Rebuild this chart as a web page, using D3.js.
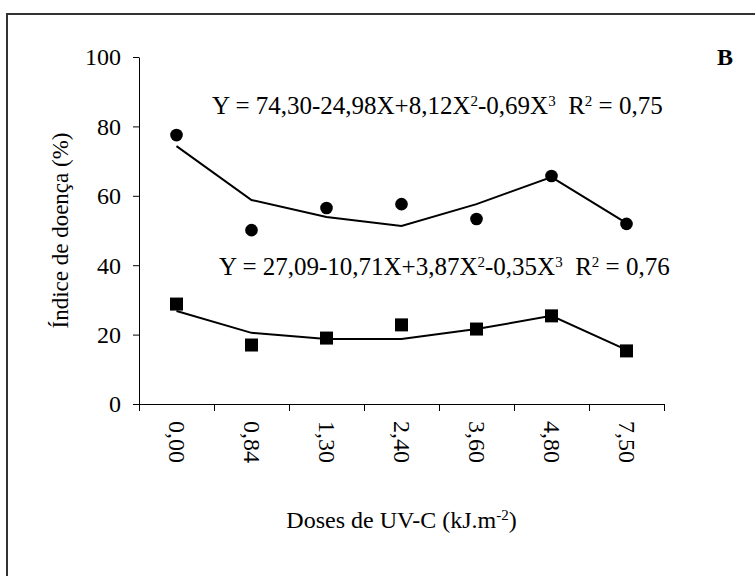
<!doctype html>
<html>
<head>
<meta charset="utf-8"/>
<script src="https://cdnjs.cloudflare.com/ajax/libs/d3/7.8.5/d3.min.js"></script>
<style>
  body { margin: 0; background: #fff; }
  svg { display: block; font-family: "Liberation Serif", "Times New Roman", serif; }
  text { font-family: "Liberation Serif", "Times New Roman", serif; fill: #000; }
  .axis path, .axis line { stroke: #000; stroke-width: 1px; }
  .axis text { font-size: 24px; font-family: "Liberation Serif", "Times New Roman", serif; }
  .fit { fill: none; stroke: #000; stroke-width: 2px; }
</style>
</head>
<body>
<svg width="755" height="576"></svg>
<script>
// doses of UV-C (kJ.m-2)
var doses = ["0,00", "0,84", "1,30", "2,40", "3,60", "4,80", "7,50"];
// observed disease index, upper series (circles) and its fitted curve
var obsUpper = [77.5, 50.1, 56.5, 57.6, 53.3, 65.7, 51.9];
var fitUpper = [74.3, 58.8, 53.9, 51.3, 57.6, 65.4, 52.1];
// lower series (squares) and its fitted curve
var obsLower = [28.8, 17.0, 19.0, 22.8, 21.6, 25.4, 15.3];
var fitLower = [26.8, 20.5, 18.7, 18.7, 21.6, 25.4, 15.6];
var yTicks = [0, 20, 40, 60, 80, 100];

var svg = d3.select("svg");

// outer frame
svg.append("rect")
  .attr("x", 7).attr("y", 14)
  .attr("width", 800).attr("height", 620)
  .attr("fill", "none")
  .attr("stroke", "#333")
  .attr("stroke-width", 2);

var plotL = 139, plotR = 664, plotT = 57, plotB = 404;

var x = d3.scaleBand().domain(doses).range([plotL, plotR]);
var xEdge = d3.scaleLinear().domain([0, doses.length]).range([plotL, plotR]);
var y = d3.scaleLinear().domain([0, 100]).range([plotB, plotT]);

// y axis
svg.append("g")
  .attr("class", "axis")
  .attr("transform", "translate(" + plotL + ",0)")
  .call(d3.axisLeft(y).tickValues(yTicks).tickSize(6).tickSizeOuter(0).tickPadding(12).tickFormat(d3.format("d")))
  .call(g => g.selectAll("text").attr("dy", "0.33em"));

// x axis: ticks at category boundaries
svg.append("g")
  .attr("class", "axis")
  .attr("transform", "translate(0," + plotB + ")")
  .call(d3.axisBottom(xEdge).tickValues(d3.range(doses.length + 1)).tickSize(7).tickSizeOuter(0).tickFormat(""));

svg.selectAll(".axis text").attr("fill", "#000");

// rotated category labels
svg.append("g")
  .selectAll("text")
  .data(doses)
  .enter()
  .append("text")
  .attr("transform", d => "translate(" + (x(d) + x.bandwidth() / 2) + ",421) rotate(90)")
  .attr("dy", "0.3em")
  .style("font-size", "24px")
  .text(d => d);

var line = d3.line()
  .x((d, i) => x(doses[i]) + x.bandwidth() / 2)
  .y(d => y(d));

svg.append("path").attr("class", "fit").attr("d", line(fitUpper));
svg.append("path").attr("class", "fit").attr("d", line(fitLower));

svg.append("g")
  .selectAll("circle")
  .data(obsUpper)
  .enter()
  .append("circle")
  .attr("cx", (d, i) => x(doses[i]) + x.bandwidth() / 2)
  .attr("cy", d => y(d))
  .attr("r", 6.3)
  .attr("fill", "#000");

svg.append("g")
  .selectAll("rect")
  .data(obsLower)
  .enter()
  .append("rect")
  .attr("x", (d, i) => x(doses[i]) + x.bandwidth() / 2 - 6.5)
  .attr("y", d => y(d) - 6.5)
  .attr("width", 13)
  .attr("height", 13)
  .attr("fill", "#000");

// regression equations
function equation(xpos, ypos, parts) {
  var t = svg.append("text")
    .attr("x", xpos).attr("y", ypos)
    .attr("xml:space", "preserve")
    .style("font-size", "25px");
  parts.forEach(p => {
    var s = t.append("tspan").text(p[0]);
    if (p[1]) s.attr("baseline-shift", "super").style("font-size", "15px");
  });
}
equation(212, 114, [["Y = 74,30-24,98X+8,12X"], ["2", 1], ["-0,69X"], ["3", 1], ["  R"], ["2", 1], [" = 0,75"]]);
equation(219, 275, [["Y = 27,09-10,71X+3,87X"], ["2", 1], ["-0,35X"], ["3", 1], ["  R"], ["2", 1], [" = 0,76"]]);

// panel letter
svg.append("text")
  .attr("x", 717).attr("y", 65)
  .style("font-size", "24px")
  .style("font-weight", "bold")
  .text("B");

// axis titles
var xt = svg.append("text")
  .attr("x", (plotL + plotR) / 2).attr("y", 528)
  .attr("text-anchor", "middle")
  .style("font-size", "24px")
  .text("Doses de UV-C (kJ.m");
xt.append("tspan").attr("baseline-shift", "super").style("font-size", "15px").text("-2");
xt.append("tspan").text(")");

svg.append("text")
  .attr("transform", "translate(68," + ((plotT + plotB) / 2) + ") rotate(-90)")
  .attr("text-anchor", "middle")
  .style("font-size", "23px")
  .text("Índice de doença (%)");
</script>
</body>
</html>
